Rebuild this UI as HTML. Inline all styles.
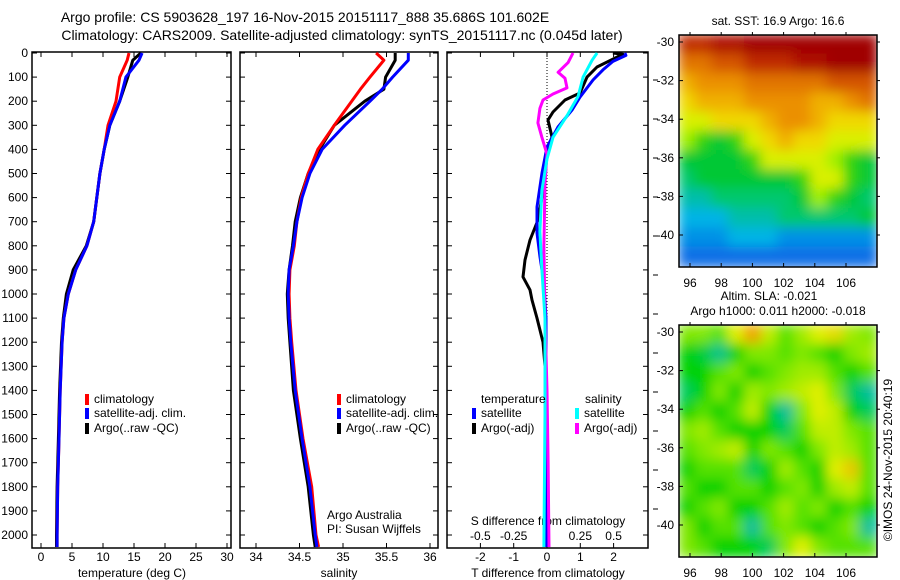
<!DOCTYPE html>
<html><head><meta charset="utf-8"><style>
html,body{margin:0;padding:0;background:#fff;}
svg{display:block;font-family:"Liberation Sans",sans-serif;}
text{fill:#000;font-size:12px;}
</style></head><body>
<svg id="c" width="900" height="580" viewBox="0 0 900 580">
<defs>
<filter id="blur" x="0" y="0" width="1" height="1"><feGaussianBlur stdDeviation="6"/></filter>
<clipPath id="clipM1"><rect x="679" y="35" width="198" height="232"/></clipPath>
<clipPath id="clipM2"><rect x="679" y="325" width="198" height="232"/></clipPath>
</defs>
<text x="305" y="22" text-anchor="middle" style="font-size:14px">Argo profile: CS 5903628_197 16-Nov-2015 20151117_888 35.686S 101.602E</text>
<text x="342" y="40" text-anchor="middle" style="font-size:14px">Climatology: CARS2009. Satellite-adjusted climatology: synTS_20151117.nc (0.045d later)</text>
</svg>
<script>
// ---- profile data ----
const tDepth=[0,30,100,200,300,400,500,600,700,800,900,1000,1100,1200,1400,1600,1800,2000,2050];
const tClim=[14.2,13.9,12.7,12.1,10.8,10.2,9.5,9.0,8.5,7.4,5.6,4.4,3.7,3.4,3.1,2.9,2.7,2.6,2.6];
const tSat=[16.3,15.8,13.7,12.7,11.1,10.2,9.5,9.0,8.5,7.4,5.6,4.4,3.7,3.4,3.1,2.9,2.7,2.6,2.6];
const tArgo=[16.1,14.8,14.0,12.7,11.1,10.2,9.5,9.0,8.5,7.3,5.2,4.1,3.6,3.3,3.0,2.8,2.6,2.5,2.5];
const sDepth=[0,30,100,150,200,300,400,500,600,700,800,900,1000,1100,1200,1400,1600,1800,2000,2050];
const sClim=[35.38,35.47,35.31,35.2,35.1,34.9,34.71,34.6,34.52,34.47,34.44,34.39,34.38,34.39,34.41,34.46,34.54,34.64,34.69,34.72];
const sSat=[35.75,35.75,35.57,35.45,35.31,35.02,34.76,34.62,34.53,34.47,34.43,34.38,34.37,34.38,34.40,34.45,34.53,34.62,34.68,34.70];
const sArgo=[35.6,35.6,35.49,35.47,35.25,34.9,34.73,34.6,34.51,34.45,34.42,34.38,34.36,34.37,34.39,34.43,34.51,34.6,34.66,34.68];
// ---- difference data ----
const dTSatDepth=[0,10,35,70,112,183,237,307,390,498,639,747,846,954,1100,1500,2050];
const dTSat=[2.34,2.37,1.98,1.68,1.38,0.99,0.75,0.33,0,-0.15,-0.30,-0.30,-0.21,-0.09,-0.03,-0.03,-0.03];
const dTArgoDepth=[0,5,58,100,166,195,245,278,349,402,527,693,776,859,929,983,1025,1100,1200,1300,1400,2050];
const dTArgo=[1.98,2.28,1.50,1.20,0.99,0.54,0.18,0.03,0.15,0,-0.06,-0.27,-0.51,-0.66,-0.72,-0.51,-0.45,-0.30,-0.12,-0.06,-0.03,0];
const dSSatDepth=[0,30,100,180,260,350,440,570,740,900,1100,1500,2050];
const dSSat=[0.376,0.338,0.271,0.233,0.150,0.045,0,-0.038,-0.053,-0.038,-0.015,-0.015,-0.023];
const dSArgoDepth=[0,40,80,105,145,170,195,230,290,350,420,540,800,1100,1400,1700,2050];
const dSArgo=[0.195,0.158,0.083,0.135,0.150,0.045,-0.030,-0.053,-0.068,-0.038,0,-0.015,-0.023,-0.015,0,0.008,0.015];
// ---- map data ----
const sstGrid=[
[19,19,19.5,19.5,20,20,20,20,20,20,20,20],
[18,18,18.5,18.5,19,19,19,19.5,19.5,20,20,20],
[17,17.5,17.5,17.5,18,18,18,18,18,18.5,18.5,18.5],
[16.5,17,17,17,17.5,17.5,17.5,17.5,17,17,17.5,18],
[16,16,16.5,16.5,16.5,17,17.5,17.5,17,16.5,16.5,16.5],
[15.5,15,14.5,15,16,16.5,17,16.5,16.5,16,16,16],
[14.5,14.5,14.5,14.5,15,16,16,16,16,15.5,15,14.5],
[14,14.5,14.5,14.5,14.5,14.5,14.5,15,16,16,15,14.5],
[13.5,13.5,14,14,14,14,14,14.5,15.5,15,14.5,14],
[13,13,13,13.5,13.5,13.5,14,14,14,14,14,14.5],
[12.5,12.5,12.5,13,13,13,12.5,12.5,12.5,12.5,12.5,12.5],
[12,12,12,12,12,12,12,12,12,12,12,12]];
const slaGrid=[
[0.03,0.03,0.02,0.06,0.1,0.05,0.02,0.04,0.06,0.07,0.04,0.03],
[0,-0.02,-0.05,0,0.03,0.03,0.02,0.03,0.02,0,0.03,0.04],
[0,0,0.02,0.03,0,0.02,0.03,0.04,0.04,0.02,0,0.02],
[-0.03,0,0.03,0,0.04,0.03,0.04,0.05,0.06,0.03,-0.03,-0.06],
[0,0.02,0,0.02,0.05,0,-0.06,0.03,0.06,0.05,0,-0.03],
[0.03,0.04,0.02,0,0,0,-0.03,0.02,0.05,0.05,0.03,0.02],
[0.02,0.03,0.04,0.05,0,0.03,0.02,0,0.03,0.05,0.04,0.02],
[0,0.02,0.02,0.02,-0.03,0,0.04,0.02,0,0.06,0.08,0.02],
[0.02,0,0,0.02,0.02,0,0.02,0.03,0,0.04,0.05,0.02],
[0,0.02,0.03,0,0,0.02,0.04,0.02,0.03,0,0.02,0],
[0.03,0,0.02,0.02,-0.06,0.02,0.03,0.02,0,0.02,0.03,-0.06],
[0.03,0.02,0,0,0,-0.03,0.03,0.06,0.03,0.02,0.02,0.02]];
const depthTicks=[0,100,200,300,400,500,600,700,800,900,1000,1100,1200,1300,1400,1500,1600,1700,1800,1900,2000];
const tempTicks=[0,5,10,15,20,25,30];
const salTicks=[34,34.5,35,35.5,36];
const salTickLabels=["34","34.5","35","35.5","36"];
const dtTicks=[-2,-1,0,1,2];
const dsTicks=[-0.5,-0.25,0,0.25,0.5];
const dsTickLabels=["-0.5","-0.25","0","0.25","0.5"];
const lonTicks=[96,98,100,102,104,106];
const latTicks=[-30,-32,-34,-36,-38,-40];

const NS='http://www.w3.org/2000/svg';
const svg=document.getElementById('c');
function el(tag,attrs,parent){const e=document.createElementNS(NS,tag);for(const k in attrs)e.setAttribute(k,attrs[k]);(parent||svg).appendChild(e);return e;}
function txt(x,y,s,anchor,size){const t=el('text',{x:x,y:y,'text-anchor':anchor||'start'});if(size)t.style.fontSize=size+'px';t.textContent=s;return t;}

const PT=52,PB=548;
const yD=d=>53+d*0.241;
const xT=v=>41+v*6.2;
const xS=v=>256+(v-34)*87;
const xDT=v=>547+v*33.3;
const xDS=v=>547+v*133.3;
const panels=[{x0:32,x1:231,name:'temperature-panel'},{x0:240,x1:438,name:'salinity-panel'},{x0:447,x1:648,name:'difference-panel'}];

panels.forEach((p,i)=>{
  const g=el('g',{});
  
  
  el('rect',{x:p.x0,y:PT,width:p.x1-p.x0,height:PB-PT,fill:'none',stroke:'#000','stroke-width':1.5},g);
  depthTicks.forEach(d=>{
    el('line',{x1:p.x0,x2:p.x0+5,y1:yD(d),y2:yD(d),stroke:'#000'},g);
    el('line',{x1:p.x1,x2:p.x1-5,y1:yD(d),y2:yD(d),stroke:'#000'},g);
  });
});
depthTicks.forEach(d=>{const t=txt(28,yD(d)+4,String(d),'end');});
function xticks(arr,fn,labels,y){arr.forEach((v,i)=>{const x=fn(v);el('line',{x1:x,x2:x,y1:PB,y2:PB-5,stroke:'#000'});el('line',{x1:x,x2:x,y1:PT,y2:PT+5,stroke:'#000'});const t=txt(x,y,labels?labels[i]:String(v),'middle');});}
xticks(tempTicks,xT,null,561);
xticks(salTicks,xS,salTickLabels,561);
xticks(dtTicks,xDT,null,561);
dsTicks.forEach((v,i)=>{const t=txt(xDS(v),540,dsTickLabels[i],'middle');});
for(let y=80;y<548;y+=39){el('line',{x1:653,x2:658,y1:y,y2:y,stroke:'#000'});}
let t;
t=txt(132,577,'temperature (deg C)','middle');
t=txt(339,577,'salinity','middle');
t=txt(548,577,'T difference from climatology','middle');
t=txt(548,525,'S difference from climatology','middle');
t=txt(327,519,'Argo Australia');
t=txt(327,533,'PI: Susan Wijffels');
el('line',{x1:547,x2:547,y1:PT,y2:PB,stroke:'#000','stroke-dasharray':'1,2'});

function profile(vals,depths,fx,color,name){
  const pts=vals.map((v,i)=>fx(v).toFixed(1)+','+yD(depths[i]).toFixed(1)).join(' ');
  const pl=el('polyline',{points:pts,fill:'none',stroke:color,'stroke-width':3,'stroke-linejoin':'round'});
  
  
}
profile(tArgo,tDepth,xT,'#000','temp-argo-line');
profile(tClim,tDepth,xT,'#f00','temp-climatology-line');
profile(tSat,tDepth,xT,'#00f','temp-satellite-line');
profile(sArgo,sDepth,xS,'#000','sal-argo-line');
profile(sClim,sDepth,xS,'#f00','sal-climatology-line');
profile(sSat,sDepth,xS,'#00f','sal-satellite-line');
profile(dTArgo,dTArgoDepth,xDT,'#000','tdiff-argo-line');
profile(dTSat,dTSatDepth,xDT,'#00f','tdiff-satellite-line');
profile(dSArgo,dSArgoDepth,xDS,'#f0f','sdiff-argo-line');
profile(dSSat,dSSatDepth,xDS,'#0ff','sdiff-satellite-line');

function legend(x,y,color,label,name){
  el('rect',{x:x,y:y-9,width:4,height:11,fill:color});
  const t=txt(x+9,y,label);
  
  
}
legend(85,403,'#f00','climatology','legend-climatology');
legend(85,417,'#00f','satellite-adj. clim.','legend-satellite');
legend(85,432,'#000','Argo(..raw -QC)','legend-argo');
legend(337,403,'#f00','climatology','legend-sal-climatology');
legend(337,417,'#00f','satellite-adj. clim.','legend-sal-satellite');
legend(337,432,'#000','Argo(..raw -QC)','legend-sal-argo');
t=txt(481,403,'temperature');
t=txt(585,403,'salinity');
legend(472,417,'#00f','satellite','legend-tdiff-satellite');
legend(472,432,'#000','Argo(-adj)','legend-tdiff-argo');
legend(575,417,'#0ff','satellite','legend-sdiff-satellite');
legend(575,432,'#f0f','Argo(-adj)','legend-sdiff-argo');

// ---- maps ----
function lerpColor(stops,v){
  if(v<=stops[0][0])return stops[0][1];
  for(let i=1;i<stops.length;i++){if(v<=stops[i][0]){const a=stops[i-1],b=stops[i];const f=(v-a[0])/(b[0]-a[0]);
    return a[1].map((x,k)=>Math.round(x+(b[1][k]-x)*f));}}
  return stops[stops.length-1][1];
}
const sstStops=[[12,[10,110,230]],[13,[0,180,230]],[14,[0,200,110]],[14.8,[0,200,20]],[15.5,[160,240,0]],[16.2,[240,240,0]],[17.2,[240,160,0]],[18.3,[220,100,0]],[19.3,[180,20,0]],[20,[160,0,0]]];
const slaStops=[[-0.08,[0,180,190]],[-0.04,[0,200,120]],[0,[0,210,0]],[0.03,[128,232,0]],[0.06,[224,240,0]],[0.1,[240,160,0]]];
const lonX=v=>690+(v-96)*15.6;
function drawMap(grid,stops,top,clip,name){
  const latY=v=>top+7+(-30-v)*19.3;
  const g=el('g',{'clip-path':'url(#'+clip+')'});
  
  
  const inner=el('g',{filter:'url(#blur)'},g);
  const rows=grid.length,cols=grid[0].length;
  const lon0=95.3,lon1=108,lat0=-29.64,lat1=-41.66;
  const dl=(lon1-lon0)/cols,dt=(lat0-lat1)/rows;
  grid.forEach((row,r)=>row.forEach((v,c)=>{
    const x=lonX(lon0+c*dl),y=latY(lat0-r*dt);
    const col=lerpColor(stops,v);
    const cell=el('rect',{x:x-1,y:y-1,width:dl*15.6+2,height:dt*19.3+2,fill:'rgb('+col.join(',')+')'},inner);
    
    
  }));
  el('rect',{x:679,y:top,width:198,height:232,fill:'none',stroke:'#000','stroke-width':1.5});
  latTicks.forEach(v=>{const y=latY(v);el('line',{x1:679,x2:683,y1:y,y2:y,stroke:'#000'});el('line',{x1:877,x2:880,y1:y,y2:y,stroke:'#000'});
    const t=txt(674,y+4,String(v),'end');});
  lonTicks.forEach(v=>{const x=lonX(v);el('line',{x1:x,x2:x,y1:top+232,y2:top+228,stroke:'#000'});el('line',{x1:x,x2:x,y1:top,y2:top-3,stroke:'#000'});
    const t=txt(x,top+252,String(v),'middle');});
}
drawMap(sstGrid,sstStops,35,'clipM1','sst-map');
drawMap(slaGrid,slaStops,325,'clipM2','sla-map');
t=txt(778,25,'sat. SST: 16.9 Argo: 16.6','middle');
t=txt(769,300,'Altim. SLA: -0.021','middle');
t=txt(778,315,'Argo h1000: 0.011 h2000: -0.018','middle');
t=txt(0,0,'©IMOS 24-Nov-2015 20:40:19','middle');t.setAttribute('transform','translate(892,460) rotate(-90)');

</script>
</body></html>
